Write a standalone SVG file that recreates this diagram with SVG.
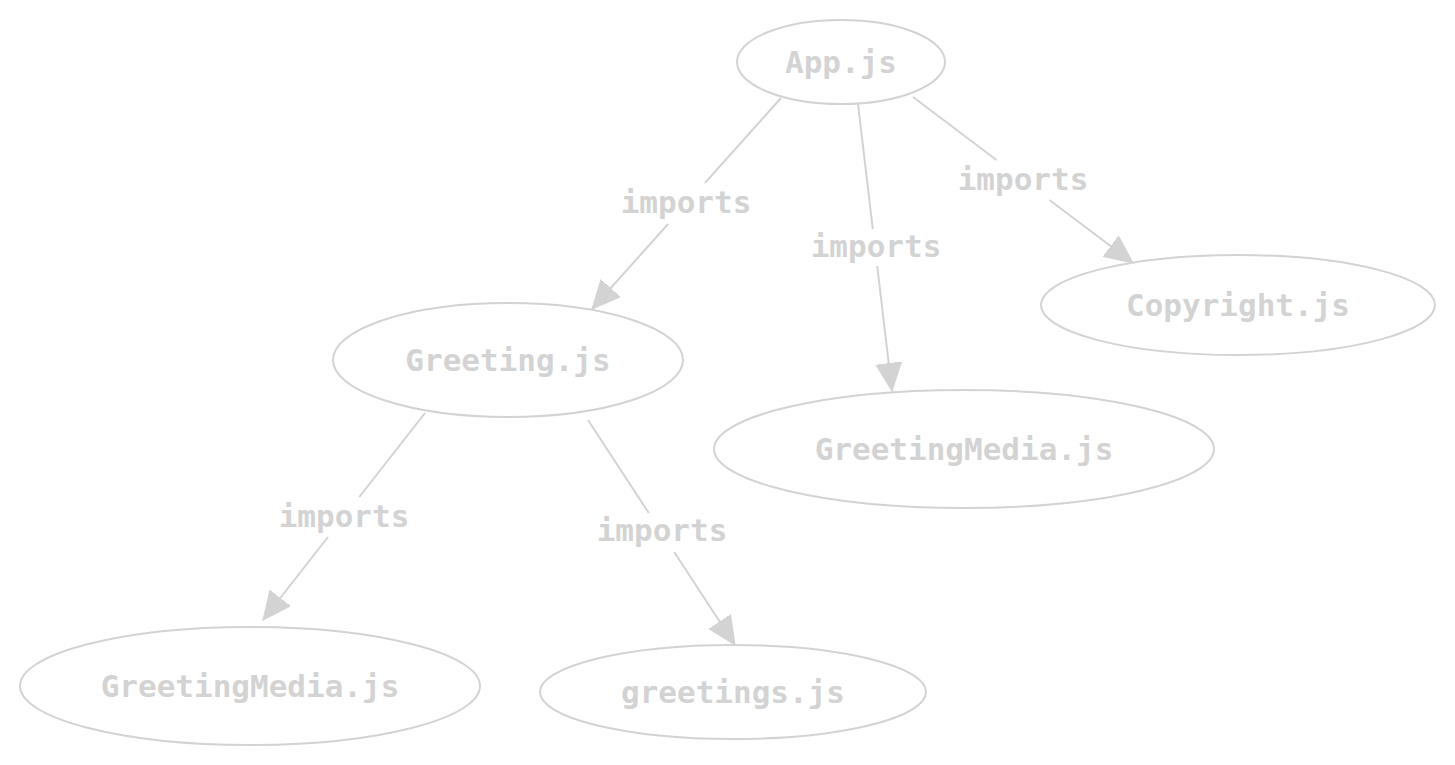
<svg xmlns="http://www.w3.org/2000/svg" width="1455" height="765" viewBox="0 0 1455 765">
<style>
.n ellipse{fill:none;stroke:#d3d3d3;stroke-width:2}
text{font-family:"DejaVu Sans Mono","Liberation Mono",monospace;font-weight:bold;font-size:31px;fill:#d3d3d3;text-anchor:middle}
.e path{fill:none;stroke:#d3d3d3;stroke-width:2;marker-end:url(#ah)}
</style>
<defs>
<marker id="ah" markerUnits="userSpaceOnUse" markerWidth="30" markerHeight="28" refX="28" refY="13" orient="auto" viewBox="0 0 30 28">
<path d="M0,0 L28,13 L0,26 Z" fill="#d3d3d3" stroke="#d3d3d3" stroke-width="1"/>
</marker>
</defs>
<rect width="1455" height="765" fill="#fff"/>
<g id="edges">
<g class="e" id="e1"><path d="M781,98 L704.9,183 M668.1,224 L592,309"/><text x="686" y="213">imports</text></g>
<g class="e" id="e2"><path d="M858,104 L872.8,229 M877.2,266 L892,391"/><text x="876" y="257">imports</text></g>
<g class="e" id="e3"><path d="M913,97 L996.5,160 M1049.5,200 L1133,263"/><text x="1023" y="190">imports</text></g>
<g class="e" id="e4"><path d="M425,413 L359.3,497 M328,537 L263,620"/><text x="344" y="527">imports</text></g>
<g class="e" id="e5"><path d="M588,420 L648.8,513 M674.2,552 L735,645"/><text x="662" y="541">imports</text></g>
</g>
<g class="n" id="app"><ellipse cx="841" cy="62" rx="104" ry="42"/><text x="841" y="72.5">App.js</text></g>
<g class="n" id="greeting"><ellipse cx="508" cy="360" rx="175" ry="57"/><text x="508" y="370.5">Greeting.js</text></g>
<g class="n" id="greetingmedia1"><ellipse cx="964" cy="449" rx="250" ry="59"/><text x="964" y="459.5">GreetingMedia.js</text></g>
<g class="n" id="copyright"><ellipse cx="1238" cy="305" rx="197" ry="50"/><text x="1238" y="315.5">Copyright.js</text></g>
<g class="n" id="greetingmedia2"><ellipse cx="250" cy="686" rx="230" ry="59"/><text x="250" y="696.5">GreetingMedia.js</text></g>
<g class="n" id="greetings"><ellipse cx="733" cy="692" rx="193" ry="47"/><text x="733" y="702.5">greetings.js</text></g>
</svg>
